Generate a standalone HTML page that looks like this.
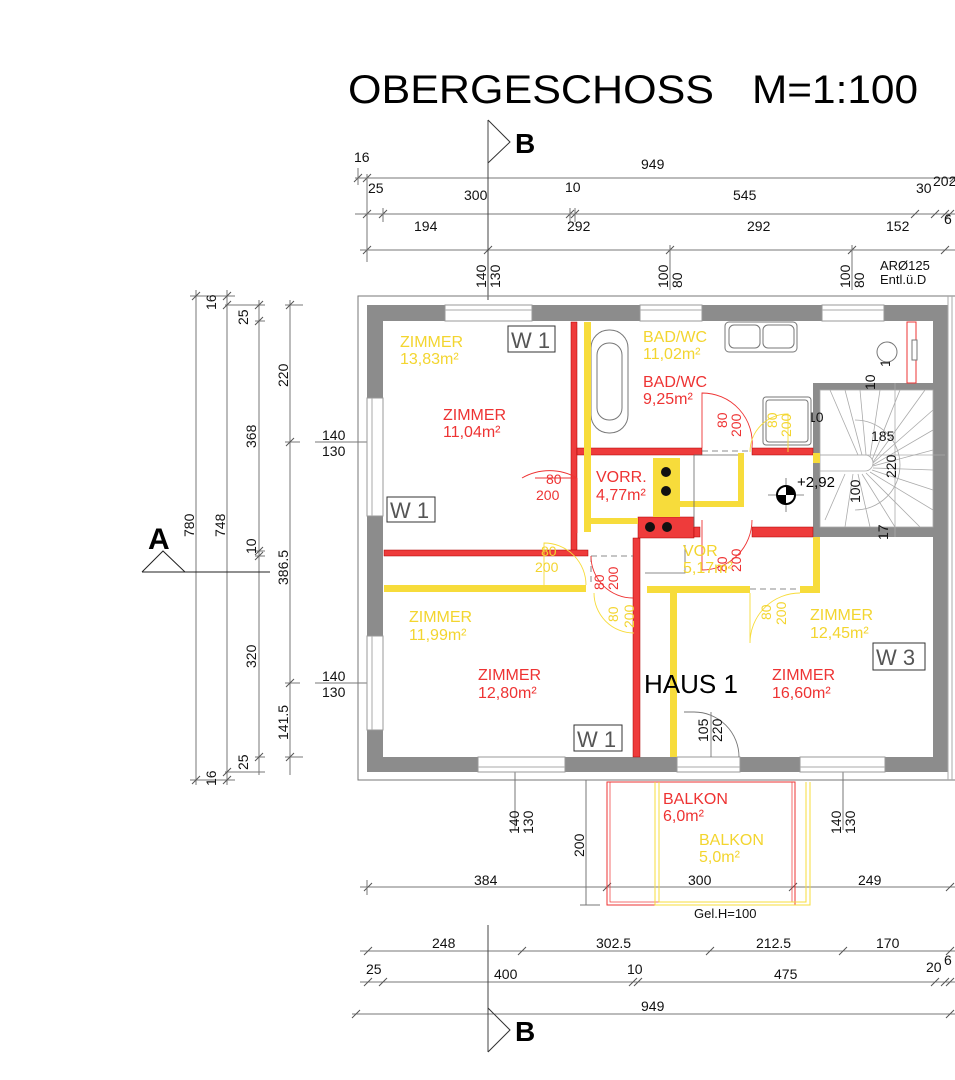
<!DOCTYPE html>
<html><head><meta charset="utf-8"><style>
html,body{margin:0;padding:0;background:#fff;}
svg{display:block;font-family:"Liberation Sans",Arial,sans-serif;}
</style></head><body>
<svg width="955" height="1080" viewBox="0 0 955 1080" xmlns="http://www.w3.org/2000/svg">
<rect width="955" height="1080" fill="#fff"/>
<!-- title -->
<text x="348" y="103" font-size="40" fill="#000" textLength="366" lengthAdjust="spacingAndGlyphs">OBERGESCHOSS</text>
<text x="752" y="103" font-size="40" fill="#000" textLength="166" lengthAdjust="spacingAndGlyphs">M=1:100</text>

<g stroke="#777" stroke-width="1" fill="none">
<!-- top dims -->
<line x1="355" y1="178" x2="955" y2="178"/>
<line x1="355" y1="214" x2="955" y2="214"/>
<line x1="360" y1="250" x2="955" y2="250"/>
<g stroke="#555">
<path d="M354 182l8-8M363 182l8-8M950 182l8-8"/>
<path d="M363 218l8-8M379 218l8-8M566 218l8-8M571 218l8-8M911 218l8-8M931 218l8-8M941 218l8-8M946 218l8-8"/>
<path d="M363 254l8-8M484 254l8-8M666 254l8-8M848 254l8-8M941 254l8-8"/>
</g>
<line x1="367" y1="174" x2="367" y2="262"/>
<line x1="358" y1="168" x2="358" y2="185"/>
<line x1="383" y1="208" x2="383" y2="222"/>
<line x1="570" y1="208" x2="570" y2="222"/>
<line x1="575" y1="208" x2="575" y2="222"/>
<line x1="670" y1="245" x2="670" y2="290"/>
<line x1="852" y1="245" x2="852" y2="290"/>
<line x1="488" y1="120" x2="488" y2="300" stroke="#444"/>
<!-- left dims -->
<line x1="196" y1="290" x2="196" y2="785"/>
<line x1="227" y1="290" x2="227" y2="785"/>
<line x1="259" y1="300" x2="259" y2="775"/>
<line x1="290" y1="300" x2="290" y2="775"/>
<line x1="190" y1="296" x2="235" y2="296"/>
<line x1="225" y1="305" x2="265" y2="305"/>
<line x1="255" y1="321" x2="265" y2="321"/>
<line x1="285" y1="305" x2="303" y2="305"/>
<line x1="285" y1="442" x2="300" y2="442"/>
<line x1="285" y1="683" x2="300" y2="683"/>
<line x1="285" y1="757" x2="303" y2="757"/>
<line x1="255" y1="757" x2="265" y2="757"/>
<line x1="225" y1="772" x2="265" y2="772"/>
<line x1="190" y1="780" x2="235" y2="780"/>
<line x1="255" y1="551" x2="265" y2="551"/>
<line x1="255" y1="556" x2="265" y2="556"/>
<g stroke="#555"><path d="M192 300l8-8M223 300l8-8M223 309l8-8M255 309l8-8M255 325l8-8M286 309l8-8M286 446l8-8M286 687l8-8M286 761l8-8M255 761l8-8M223 776l8-8M192 784l8-8M223 784l8-8M255 555l8-8M255 560l8-8"/></g>
<line x1="142" y1="572" x2="270" y2="572" stroke="#222"/>
<path d="M142 572L163 551L185 572" stroke="#222"/>
<line x1="315" y1="442" x2="383" y2="442"/>
<line x1="315" y1="683" x2="383" y2="683"/>
<!-- outline -->
<rect x="358" y="296" width="610" height="484"/>
<!-- bottom dims -->
<line x1="515" y1="772" x2="515" y2="830"/>
<line x1="843" y1="772" x2="843" y2="830"/>
<line x1="586" y1="780" x2="586" y2="905"/>
<line x1="580" y1="905" x2="600" y2="905"/>
<line x1="360" y1="887" x2="955" y2="887"/>
<path d="M364 891l8-8M603 891l8-8M789 891l8-8M946 891l8-8" stroke="#555"/>
<line x1="367" y1="880" x2="367" y2="895"/>
<line x1="360" y1="951" x2="955" y2="951"/>
<path d="M364 955l8-8M518 955l8-8M706 955l8-8M839 955l8-8M946 955l8-8" stroke="#555"/>
<line x1="360" y1="982" x2="955" y2="982"/>
<path d="M364 986l8-8M379 986l8-8M629 986l8-8M634 986l8-8M931 986l8-8M941 986l8-8M946 986l8-8" stroke="#555"/>
<line x1="352" y1="1014" x2="955" y2="1014"/>
<path d="M352 1018l8-8M946 1018l8-8" stroke="#555"/>
<line x1="488" y1="925" x2="488" y2="1052" stroke="#444"/>
</g>
<!-- section B markers -->
<path d="M488 120L510 142L488 163" fill="none" stroke="#333"/>
<text x="515" y="153" font-size="28" font-weight="bold">B</text>
<path d="M488 1008L510 1030L488 1052" fill="none" stroke="#333"/>
<text x="515" y="1041" font-size="28" font-weight="bold">B</text>
<text x="148" y="549" font-size="30" font-weight="bold">A</text>

<!-- dimension text -->
<g font-size="14" fill="#111">
<text x="354" y="162">16</text>
<text x="641" y="169">949</text>
<text x="368" y="193">25</text>
<text x="464" y="200">300</text>
<text x="565" y="192">10</text>
<text x="733" y="200">545</text>
<text x="916" y="193">30</text>
<text x="933" y="186">202</text>
<text x="414" y="231">194</text>
<text x="567" y="231">292</text>
<text x="747" y="231">292</text>
<text x="886" y="231">152</text>
<text x="944" y="224">6</text>
<text x="880" y="270" font-size="13">ARØ125</text>
<text x="880" y="284" font-size="13">Entl.ü.D</text>
<text transform="translate(486,288) rotate(-90)">140</text>
<text transform="translate(500,288) rotate(-90)">130</text>
<text transform="translate(668,288) rotate(-90)">100</text>
<text transform="translate(682,288) rotate(-90)">80</text>
<text transform="translate(850,288) rotate(-90)">100</text>
<text transform="translate(864,288) rotate(-90)">80</text>
<text x="322" y="440">140</text><text x="322" y="456">130</text>
<text x="322" y="681">140</text><text x="322" y="697">130</text>
<text transform="translate(216,310) rotate(-90)">16</text>
<text transform="translate(248,325) rotate(-90)">25</text>
<text transform="translate(288,387) rotate(-90)">220</text>
<text transform="translate(256,448) rotate(-90)">368</text>
<text transform="translate(194,537) rotate(-90)">780</text>
<text transform="translate(225,537) rotate(-90)">748</text>
<text transform="translate(256,554) rotate(-90)">10</text>
<text transform="translate(288,585) rotate(-90)">386.5</text>
<text transform="translate(256,668) rotate(-90)">320</text>
<text transform="translate(288,740) rotate(-90)">141.5</text>
<text transform="translate(248,770) rotate(-90)">25</text>
<text transform="translate(216,786) rotate(-90)">16</text>
<text transform="translate(519,834) rotate(-90)">140</text>
<text transform="translate(533,834) rotate(-90)">130</text>
<text transform="translate(841,834) rotate(-90)">140</text>
<text transform="translate(855,834) rotate(-90)">130</text>
<text transform="translate(584,857) rotate(-90)">200</text>
<text x="474" y="885">384</text>
<text x="688" y="885">300</text>
<text x="858" y="885">249</text>
<text x="694" y="918" font-size="13">Gel.H=100</text>
<text x="432" y="948">248</text>
<text x="596" y="948">302.5</text>
<text x="756" y="948">212.5</text>
<text x="876" y="948">170</text>
<text x="366" y="974">25</text>
<text x="494" y="979">400</text>
<text x="627" y="974">10</text>
<text x="774" y="979">475</text>
<text x="926" y="972">20</text>
<text x="944" y="965">6</text>
<text x="641" y="1011">949</text>
</g>

<!-- outer walls -->
<g fill="#8c8c8c">
<rect x="367" y="305" width="581" height="16"/>
<rect x="367" y="757" width="581" height="15"/>
<rect x="367" y="305" width="16" height="467"/>
<rect x="933" y="305" width="15" height="467"/>
</g>
<!-- windows / openings -->
<g fill="#fff" stroke="#999" stroke-width="1">
<rect x="445" y="305" width="87" height="16"/>
<rect x="640" y="305" width="62" height="16"/>
<rect x="822" y="305" width="62" height="16"/>
<rect x="367" y="398" width="16" height="118"/>
<rect x="367" y="636" width="16" height="94"/>
<rect x="478" y="757" width="87" height="15"/>
<rect x="677" y="757" width="63" height="15"/>
<rect x="800" y="757" width="85" height="15"/>
</g>
<g stroke="#aaa" stroke-width="1">
<line x1="445" y1="310" x2="532" y2="310"/><line x1="640" y1="310" x2="702" y2="310"/><line x1="822" y1="310" x2="884" y2="310"/>
<line x1="372" y1="398" x2="372" y2="516"/><line x1="372" y1="636" x2="372" y2="730"/>
<line x1="478" y1="767" x2="565" y2="767"/><line x1="677" y1="767" x2="740" y2="767"/><line x1="800" y1="767" x2="885" y2="767"/>
<line x1="948" y1="296" x2="948" y2="780"/><line x1="952" y1="296" x2="952" y2="780"/>
</g>
<!-- stair -->
<g fill="#8c8c8c">
<rect x="813" y="383" width="7" height="154"/>
<rect x="813" y="383" width="120" height="7"/>
<rect x="813" y="527" width="120" height="10"/>
</g>
<g stroke="#aaa" stroke-width="0.8" fill="none">
<rect x="820" y="390" width="113" height="137"/>
<path d="M820 455h45a8 8 0 0 1 0 16h-45"/>
<path d="M855 420a45 45 0 0 1 0 90"/>
<path d="M830 390L858 455M845 390L862 455M860 390L866 455M880 390L870 457M900 390L872 460M925 390L873 462M933 410L873 463M933 430L873 465M933 450L873 466M933 470L873 468M933 490L872 470M933 510L870 472M920 527L866 473M895 527L862 474M870 527L858 474M845 527L853 474M825 520L845 474"/>
<line x1="895" y1="383" x2="895" y2="537"/>
<line x1="820" y1="455" x2="945" y2="455"/>
</g>
<g font-size="14" fill="#111">
<text transform="translate(875,390) rotate(-90)">10</text>
<text x="808" y="422">10</text>
<text x="871" y="441">185</text>
<text transform="translate(896,478) rotate(-90)">220</text>
<text transform="translate(860,503) rotate(-90)">100</text>
<text transform="translate(888,540) rotate(-90)">17</text>
<text transform="translate(890,367) rotate(-90)">100</text>
</g>
<!-- fixtures -->
<g fill="#fff" stroke="#777" stroke-width="1">
<rect x="591" y="330" width="37" height="103" rx="18"/>
<rect x="597" y="343" width="25" height="77" rx="12"/>
<rect x="725" y="322" width="72" height="30" rx="4"/>
<rect x="729" y="325" width="31" height="23" rx="5"/>
<rect x="763" y="325" width="31" height="23" rx="5"/>
<rect x="763" y="397" width="48" height="48" rx="3"/>
<rect x="766" y="400" width="42" height="42" rx="3"/>
<ellipse cx="887" cy="352" rx="10" ry="10"/>
<rect x="907" y="322" width="9" height="61" stroke="#e33"/>
<rect x="912" y="340" width="5" height="20"/>
</g>
<!-- red walls -->
<g fill="#ee3b3b" stroke="#a00" stroke-width="0.5">
<rect x="571" y="322" width="6" height="229"/>
<rect x="384" y="550" width="204" height="6"/>
<rect x="577" y="448" width="125" height="7"/>
<rect x="752" y="448" width="61" height="7"/>
<rect x="633" y="538" width="7" height="219"/>
<rect x="638" y="517" width="56" height="21"/>
<rect x="752" y="527" width="61" height="10"/>
<rect x="694" y="527" width="6" height="10"/>
</g>
<!-- yellow walls -->
<g fill="#f7dc3b">
<rect x="584" y="322" width="7" height="210"/>
<rect x="584" y="518" width="54" height="6"/>
<rect x="653" y="458" width="27" height="59"/>
<rect x="680" y="501" width="64" height="6"/>
<rect x="738" y="453" width="6" height="54"/>
<rect x="813" y="453" width="7" height="10"/>
<rect x="384" y="585" width="202" height="7"/>
<rect x="647" y="586" width="103" height="7"/>
<rect x="800" y="586" width="20" height="7"/>
<rect x="813" y="537" width="7" height="56"/>
<rect x="670" y="593" width="7" height="164"/>
</g>
<g fill="#111">
<circle cx="666" cy="472" r="5"/><circle cx="666" cy="491" r="5"/>
<circle cx="650" cy="527" r="5"/><circle cx="667" cy="527" r="5"/>
</g>
<!-- misc thin lines -->
<g stroke="#666" stroke-width="0.8" fill="none">
<path d="M694 455v72M694 455h44M645 573h40v-28"/>
<path d="M702 451h50M752 455v0" stroke-dasharray="6 4"/>
<path d="M750 589h50" stroke-dasharray="6 4"/>
<path d="M591 556h42M591 556v29" stroke-dasharray="6 4"/>
<line x1="786" y1="478" x2="786" y2="512"/><line x1="768" y1="495" x2="804" y2="495"/>
</g>
<circle cx="786" cy="495" r="9" fill="#fff" stroke="#000" stroke-width="2"/>
<path d="M786 486a9 9 0 0 1 9 9h-9zM786 504a9 9 0 0 1 -9 -9h9z" fill="#000"/>
<text x="797" y="487" font-size="15">+2,92</text>
<!-- door arcs -->
<g fill="none" stroke-width="0.9">
<path d="M577 478a55 55 0 0 0 -55 0M577 478v55M522 478" stroke="#e33"/>
<path d="M535 478h42" stroke="#e33"/>
<path d="M702 448v-55a50 50 0 0 1 50 55" stroke="#e33"/>
<path d="M752 520a50 50 0 0 1 -50 50v-50" stroke="#e33"/>
<path d="M591 556a42 42 0 0 0 42 42" stroke="#e33"/>
<path d="M750 452a38 38 0 0 1 38 -38v38" stroke="#f7dc3b"/>
<path d="M586 585a42 42 0 0 0 -42 -42v42" stroke="#f7dc3b"/>
<path d="M594 593a40 40 0 0 0 40 40" stroke="#f7dc3b"/>
<path d="M750 593v50a50 50 0 0 1 50 -50" stroke="#f7dc3b"/>
<path d="M684 712h10a45 45 0 0 1 45 45" stroke="#777"/>
<line x1="711" y1="712" x2="711" y2="757" stroke="#777"/>
</g>
<g font-size="14">
<g fill="#e33">
<text x="546" y="484">80</text><text x="536" y="500">200</text>
<text transform="translate(727,428) rotate(-90)">80</text><text transform="translate(741,437) rotate(-90)">200</text>
<text transform="translate(727,572) rotate(-90)">80</text><text transform="translate(741,572) rotate(-90)">200</text>
<text transform="translate(604,590) rotate(-90)">80</text><text transform="translate(618,590) rotate(-90)">200</text>
</g>
<g fill="#f3d52f">
<text transform="translate(777,428) rotate(-90)">80</text><text transform="translate(791,437) rotate(-90)">200</text>
<text x="541" y="556">80</text><text x="535" y="572">200</text>
<text transform="translate(618,622) rotate(-90)">80</text><text transform="translate(634,628) rotate(-90)">200</text>
<text transform="translate(771,620) rotate(-90)">80</text><text transform="translate(786,625) rotate(-90)">200</text>
</g>
<text transform="translate(708,742) rotate(-90)" fill="#111">105</text>
<text transform="translate(722,742) rotate(-90)" fill="#111">220</text>
</g>
<!-- balcony -->
<g fill="none">
<rect x="607" y="782" width="188" height="123" stroke="#e33"/>
<rect x="610" y="782" width="182" height="120" stroke="#e33" stroke-width="0.7"/>
<path d="M655 782v123h155v-123M659 782v120h147v-120" stroke="#f7dc3b"/>
</g>
<!-- room labels -->
<g font-size="16">
<g fill="#f3d52f">
<text x="400" y="347">ZIMMER</text><text x="400" y="364">13,83m²</text>
<text x="643" y="342">BAD/WC</text><text x="643" y="359">11,02m²</text>
<text x="683" y="556">VOR</text><text x="683" y="573">5,17m²</text>
<text x="409" y="622">ZIMMER</text><text x="409" y="640">11,99m²</text>
<text x="810" y="620">ZIMMER</text><text x="810" y="638">12,45m²</text>
<text x="699" y="845">BALKON</text><text x="699" y="862">5,0m²</text>
</g>
<g fill="#e33">
<text x="443" y="420">ZIMMER</text><text x="443" y="437">11,04m²</text>
<text x="643" y="387">BAD/WC</text><text x="643" y="404">9,25m²</text>
<text x="596" y="482">VORR.</text><text x="596" y="500">4,77m²</text>
<text x="478" y="680">ZIMMER</text><text x="478" y="698">12,80m²</text>
<text x="772" y="680">ZIMMER</text><text x="772" y="698">16,60m²</text>
<text x="663" y="804">BALKON</text><text x="663" y="821">6,0m²</text>
</g>
</g>
<g font-size="22" fill="#555">
<rect x="508" y="326" width="47" height="26" fill="#fff" stroke="#333"/><text x="511" y="348">W 1</text>
<rect x="387" y="497" width="48" height="25" fill="#fff" stroke="#333"/><text x="390" y="518">W 1</text>
<rect x="574" y="725" width="48" height="26" fill="#fff" stroke="#333"/><text x="577" y="747">W 1</text>
<rect x="873" y="643" width="52" height="27" fill="#fff" stroke="#333"/><text x="876" y="665">W 3</text>
</g>
<text x="644" y="693" font-size="26" fill="#000">HAUS 1</text>
</svg>
</body></html>
